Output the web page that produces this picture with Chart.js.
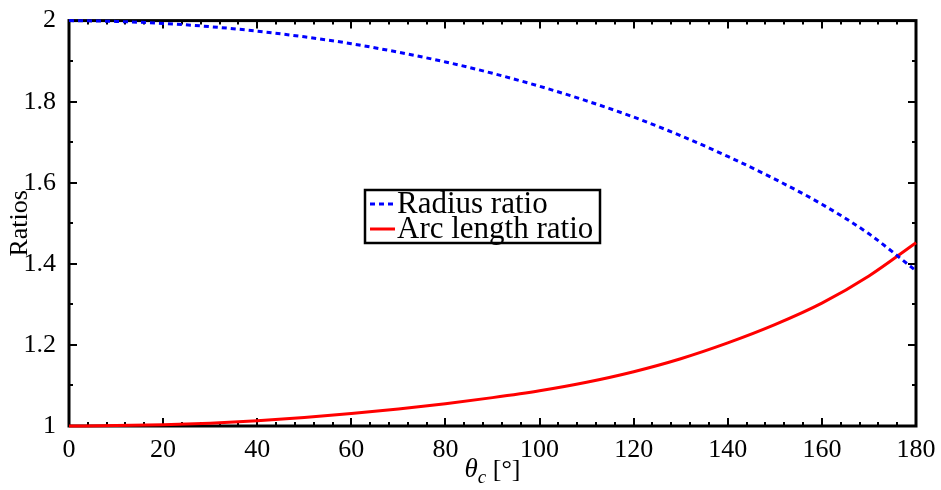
<!DOCTYPE html>
<html>
<head>
<meta charset="utf-8">
<script src="https://cdn.jsdelivr.net/npm/chart.js@4.4.1/dist/chart.umd.min.js"></script>
<style>
  html, body { margin: 0; padding: 0; background: #fff; }
  #wrap { width: 941px; height: 490px; }
</style>
</head>
<body>
<div id="wrap"><canvas id="ratios"></canvas></div>
<script>
// contact angle in degrees
const THETA = [0, 10, 20, 30, 40, 50, 60, 70, 80, 90, 100, 110, 120, 130, 140, 150, 160, 170, 180]
const RADIUS_RATIO = [2.000, 1.998, 1.993, 1.985, 1.974, 1.960, 1.943, 1.922, 1.898, 1.870, 1.838, 1.802, 1.762, 1.716, 1.665, 1.609, 1.547, 1.474, 1.383]
const ARC_RATIO = [1.000, 1.001, 1.003, 1.007, 1.013, 1.021, 1.031, 1.042, 1.055, 1.070, 1.087, 1.108, 1.134, 1.166, 1.205, 1.250, 1.303, 1.370, 1.452]

const X_MIN = 0, X_MAX = 180, X_STEP = 20, X_MINOR = 4
const Y_MIN = 1, Y_MAX = 2, Y_STEP = 0.2, Y_MINOR = 0.1

const SERIF = "'Liberation Serif', 'DejaVu Serif', serif"
Chart.defaults.font.family = SERIF
Chart.defaults.color = '#000'

const toPoints = (ys) => THETA.map((t, i) => ({ x: t, y: ys[i] }))

// box axes with inward ticks on all four sides
const boxAxes = {
  id: 'boxAxes',
  beforeDatasetsDraw(chart) {
    const { ctx, chartArea: a, scales: { x, y } } = chart
    ctx.save()
    ctx.strokeStyle = '#000'
    ctx.lineWidth = 3
    ctx.strokeRect(a.left, a.top, a.right - a.left, a.bottom - a.top)
    ctx.lineWidth = 2
    ctx.beginPath()
    for (let v = X_MIN; v <= X_MAX + 1e-9; v += X_MINOR) {
      const len = Math.abs(v % X_STEP) < 1e-6 ? 8 : 4
      const px = Math.round(x.getPixelForValue(v))
      ctx.moveTo(px, a.bottom); ctx.lineTo(px, a.bottom - len)
      ctx.moveTo(px, a.top); ctx.lineTo(px, a.top + len)
    }
    for (let k = 0; k <= Math.round((Y_MAX - Y_MIN) / Y_MINOR); k++) {
      const v = Y_MIN + k * Y_MINOR
      const len = k % 2 === 0 ? 8 : 4
      const py = Math.round(y.getPixelForValue(v))
      ctx.moveTo(a.left, py); ctx.lineTo(a.left + len, py)
      ctx.moveTo(a.right, py); ctx.lineTo(a.right - len, py)
    }
    ctx.stroke()
    ctx.restore()
  }
}

// x label with italic theta and subscript c
const xLabel = {
  id: 'xLabel',
  afterDraw(chart) {
    const { ctx, chartArea: a } = chart
    const base = 477
    const parts = [
      { t: 'θ', font: 'italic 27px ' + SERIF, dy: 0 },
      { t: 'c', font: 'italic 19px ' + SERIF, dy: 6 },
      { t: ' [°]', font: '26px ' + SERIF, dy: 0 }
    ]
    ctx.save()
    ctx.fillStyle = '#000'
    ctx.textBaseline = 'alphabetic'
    let total = 0
    parts.forEach(p => { ctx.font = p.font; p.w = ctx.measureText(p.t).width; total += p.w })
    let cx = (a.left + a.right) / 2 - total / 2
    parts.forEach(p => {
      ctx.font = p.font
      ctx.fillText(p.t, cx, base + p.dy)
      cx += p.w
    })
    ctx.restore()
  }
}

// framed legend inside the plot
const boxLegend = {
  id: 'boxLegend',
  afterDatasetsDraw(chart) {
    const { ctx } = chart
    const left = 365, top = 190, w = 235, h = 53
    ctx.save()
    ctx.fillStyle = '#fff'
    ctx.fillRect(left, top, w, h)
    ctx.strokeStyle = '#000'
    ctx.lineWidth = 2.5
    ctx.strokeRect(left, top, w, h)
    ctx.font = '31px ' + SERIF
    ctx.textBaseline = 'middle'
    chart.data.datasets.forEach((ds, i) => {
      const cy = top + 14 + i * 25
      ctx.strokeStyle = ds.borderColor
      ctx.lineWidth = ds.borderWidth
      ctx.setLineDash(ds.borderDash || [])
      ctx.beginPath()
      ctx.moveTo(left + 5, cy)
      ctx.lineTo(left + 30, cy)
      ctx.stroke()
      ctx.setLineDash([])
      ctx.fillStyle = '#000'
      ctx.fillText(ds.label, left + 32, cy + 1)
    })
    ctx.restore()
  }
}

new Chart(document.getElementById('ratios'), {
  type: 'line',
  data: {
    datasets: [
      {
        label: 'Radius ratio',
        data: toPoints(RADIUS_RATIO),
        borderColor: '#0000ff',
        borderWidth: 3,
        borderDash: [5, 4],
        pointRadius: 0,
        cubicInterpolationMode: 'monotone',
        clip: false
      },
      {
        label: 'Arc length ratio',
        data: toPoints(ARC_RATIO),
        borderColor: '#ff0000',
        borderWidth: 3,
        pointRadius: 0,
        cubicInterpolationMode: 'monotone',
        clip: false
      }
    ]
  },
  options: {
    responsive: true,
    maintainAspectRatio: false,
    animation: false,
    layout: { padding: { left: 0, top: 11, right: 25, bottom: 0 } },
    plugins: {
      legend: { display: false },
      tooltip: { enabled: false }
    },
    scales: {
      x: {
        type: 'linear',
        min: X_MIN,
        max: X_MAX,
        grid: { display: false },
        border: { display: false },
        ticks: { stepSize: X_STEP, padding: 1, font: { size: 26 }, maxRotation: 0 },
        afterFit: (s) => { s.height = 64 }
      },
      y: {
        min: Y_MIN,
        max: Y_MAX,
        grid: { display: false },
        border: { display: false },
        title: { display: true, text: 'Ratios', font: { size: 26 }, padding: { top: 5, bottom: 0 } },
        ticks: {
          stepSize: Y_STEP,
          padding: 5,
          font: { size: 26 },
          callback: (v) => Number(v.toFixed(1)).toString()
        },
        afterFit: (s) => { s.width = 69 }
      }
    }
  },
  plugins: [boxAxes, xLabel, boxLegend]
})
</script>
</body>
</html>
